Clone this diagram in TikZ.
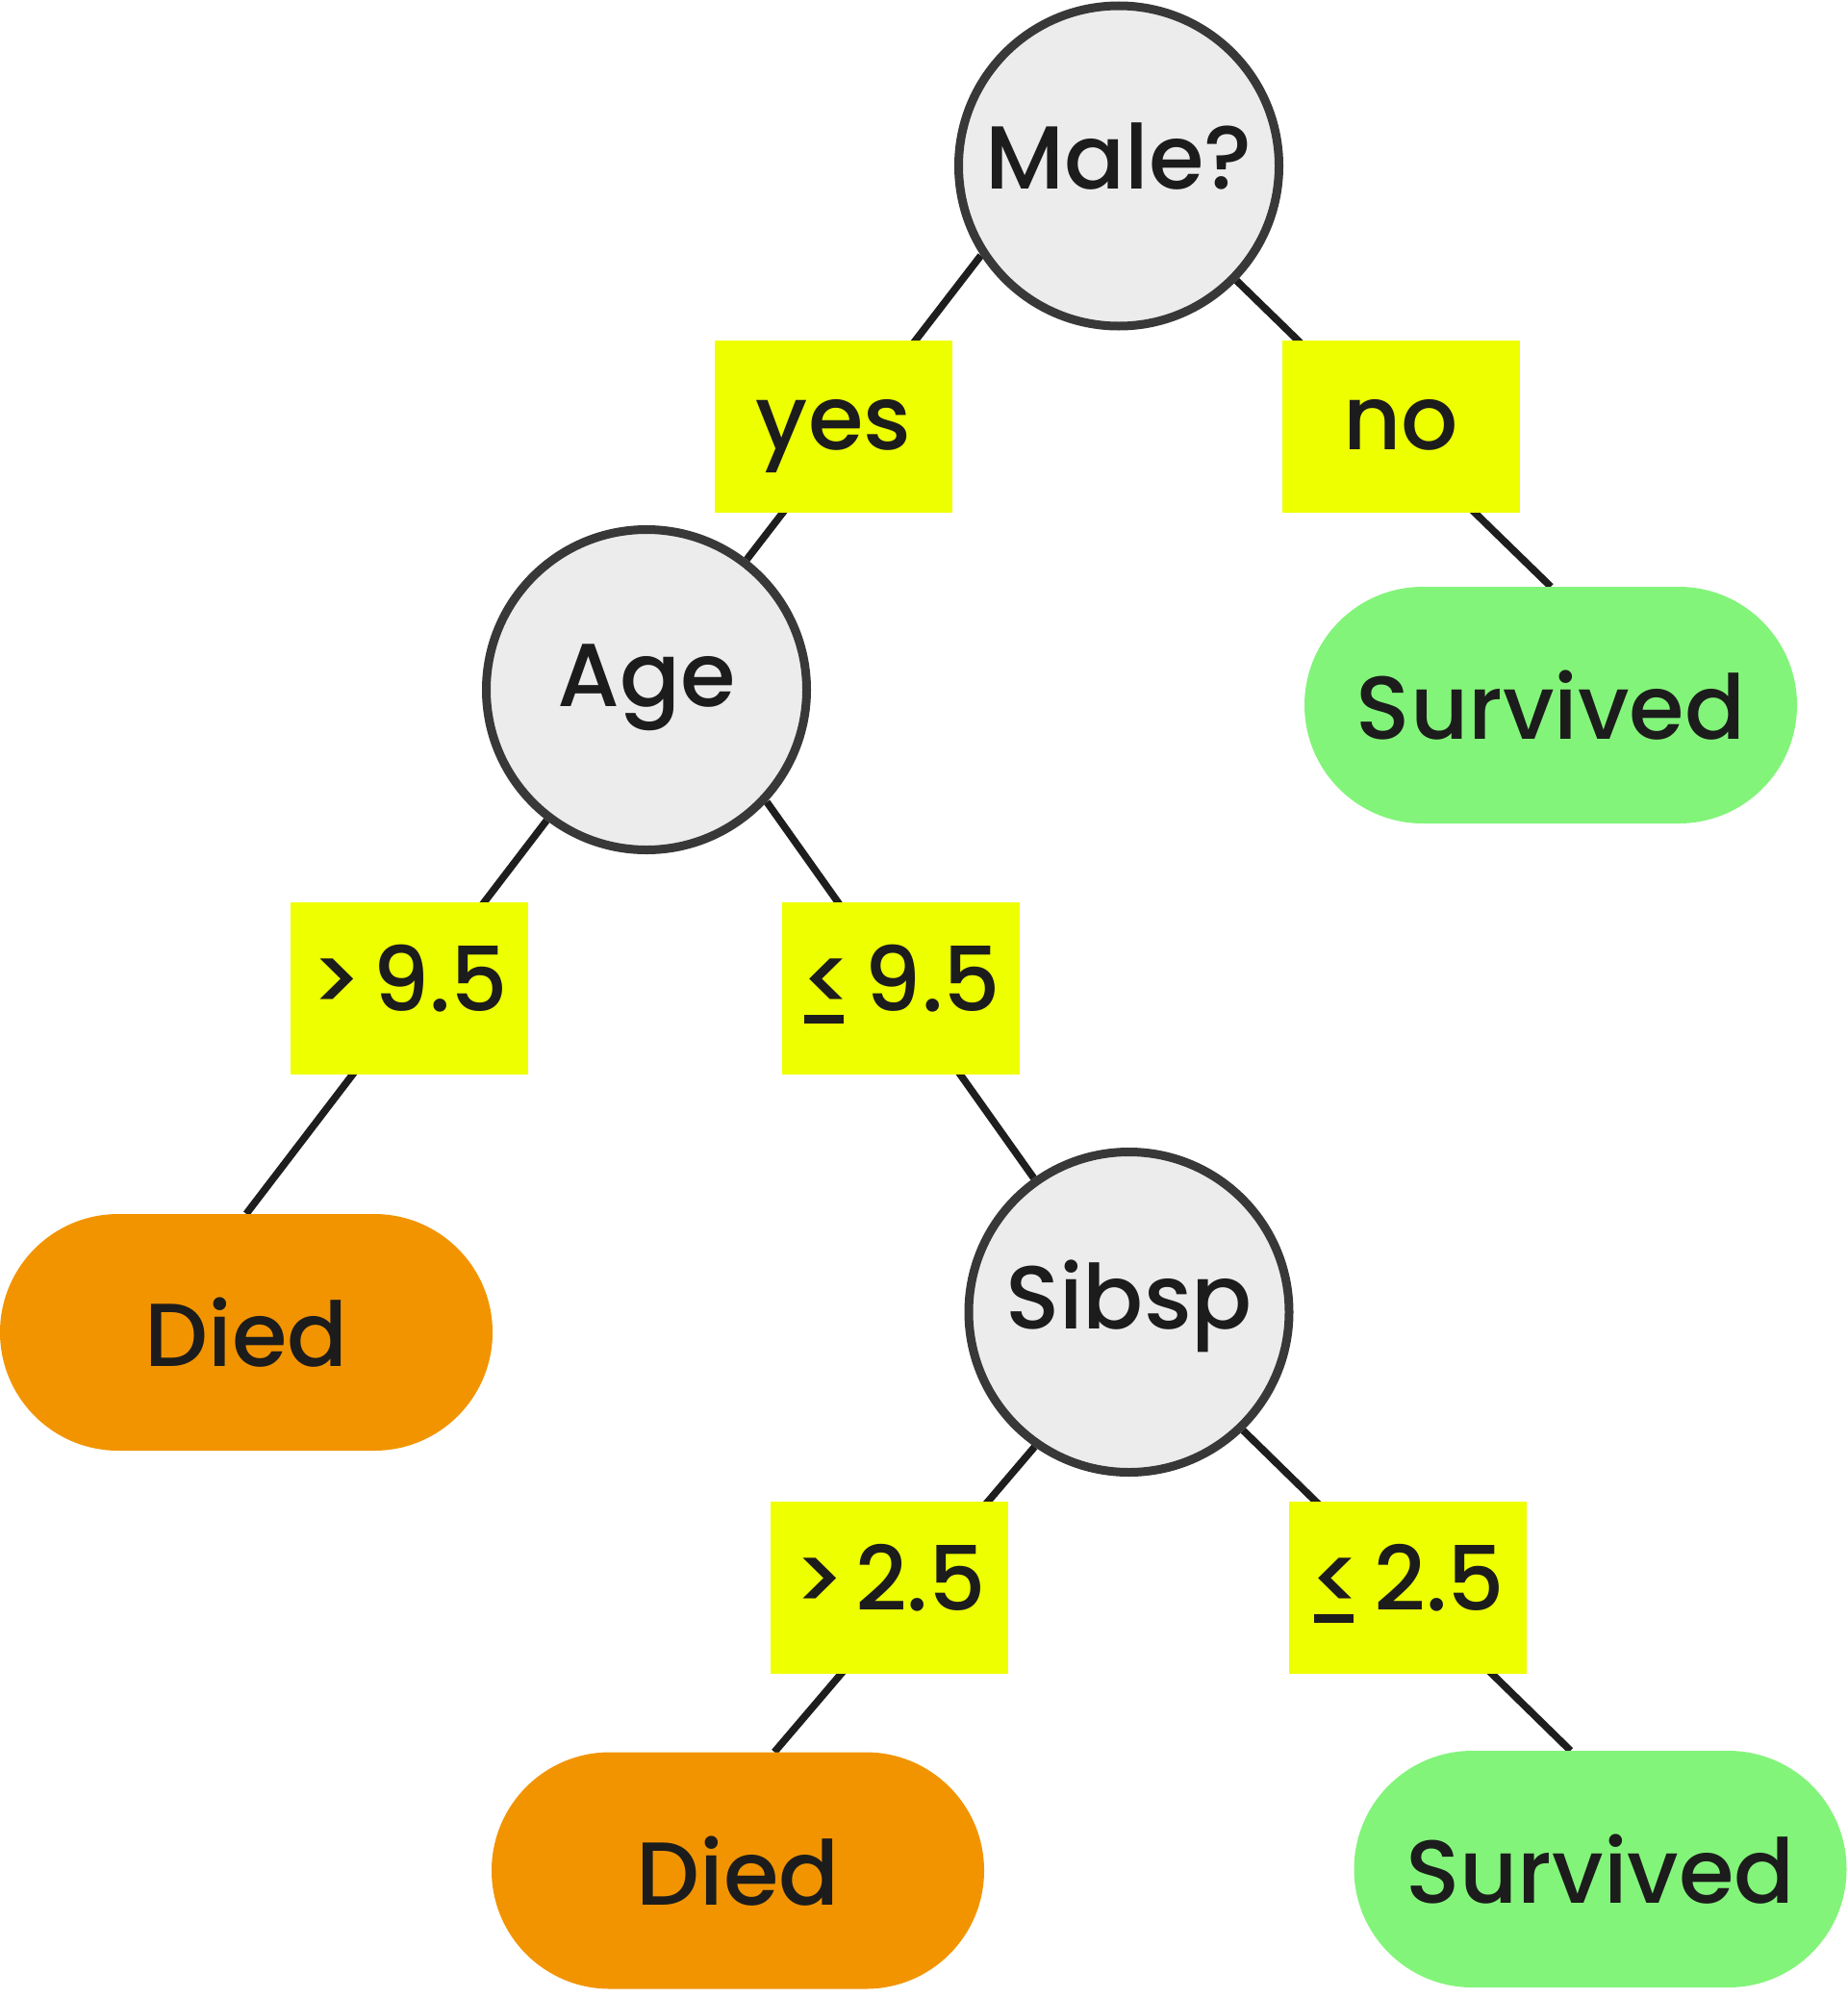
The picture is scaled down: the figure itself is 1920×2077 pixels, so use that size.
\documentclass[tikz,border=0pt]{standalone}
\usepackage{fontspec}
\setmainfont{Poppins}[UprightFont={* Medium}]
\usetikzlibrary{calc,backgrounds}
\definecolor{nodefill}{HTML}{ECECEC}
\definecolor{nodeline}{HTML}{383838}
\definecolor{edgecol}{HTML}{1E1E1E}
\definecolor{labelyellow}{HTML}{EEFF00}
\definecolor{survgreen}{HTML}{83F47A}
\definecolor{diedorange}{HTML}{F29400}
\definecolor{txt}{HTML}{1C1C1C}
\newcommand{\uless}{\rlap{\hspace{4pt}\rule[-13pt]{41pt}{9pt}}<}
\newcommand{\gapsp}{\hspace{10pt}}
\begin{document}
\begin{tikzpicture}[x=1pt,y=-1pt,
  every node/.style={font=\fontsize{93}{100}\selectfont, text=txt},
  decision/.style={circle, draw=nodeline, line width=9pt, fill=nodefill,
    minimum size=333pt, inner sep=0pt, text height=35pt, text depth=0pt},
  leafbox/.style={rectangle, rounded corners=123pt, minimum width=512pt,
    minimum height=246pt, inner sep=0pt, text height=71pt, text depth=0pt},
  survived/.style={leafbox, fill=survgreen},
  died/.style={leafbox, fill=diedorange},
  edgelabel/.style={rectangle, fill=labelyellow, minimum width=247pt,
    minimum height=179pt, inner sep=0pt, text height=47pt, text depth=0pt},
  connector/.style={draw=edgecol, line width=7.5pt},
]
\useasboundingbox (0,0) rectangle (1920,2077);
% decision nodes
\node[decision, text height=47pt] (male) at (1163,172.5) {Male?};
\node[decision] (age) at (672,717) {Age};
\node[decision] (sibsp) at (1173.5,1364) {Sibsp};
% leaves
\node[survived] (surv1) at (1612,733) {Survived};
\node[died] (died1) at (256,1385) {Died};
\node[died] (died2) at (767,1944.5) {Died};
\node[survived] (surv2) at (1663.5,1943) {Survived};
% edge labels
\node[edgelabel] (yes) at (866.5,443.5) {yes};
\node[edgelabel] (no) at (1456,443.5) {no};
\node[edgelabel] (gt95) at (425.5,1027.5) {>\gapsp 9.5};
\node[edgelabel] (le95) at (936,1027.5) {\uless\gapsp 9.5};
\node[edgelabel] (gt25) at (924.5,1650.5) {>\gapsp 2.5};
\node[edgelabel] (le25) at (1463,1650.5) {\uless\gapsp 2.5};
% connectors
\begin{scope}[on background layer]
\draw[connector] (male.213) -- (age);
\draw[connector] (male) -- (surv1.north);
\draw[connector] (age) -- (died1.north);
\draw[connector] (age.-43.5) -- (sibsp);
\draw[connector] (sibsp.235) -- ($(died2.north)+(38,0)$);
\draw[connector] (sibsp.-46) -- ($(surv2.north)+(-31,0)$);
\end{scope}
\end{tikzpicture}
\end{document}
